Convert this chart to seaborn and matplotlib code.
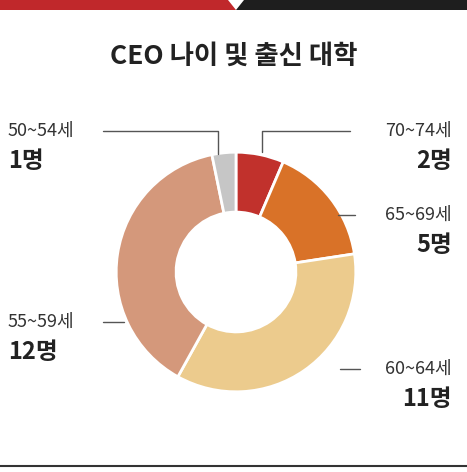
import matplotlib
matplotlib.use("Agg")
import matplotlib.pyplot as plt
import seaborn as sns

sns.set_theme(style="white")
plt.rcParams['font.family'] = ['Noto Sans CJK KR', 'DejaVu Sans']

labels = ["70~74세", "65~69세", "60~64세", "55~59세", "50~54세"]
counts = [2, 5, 11, 12, 1]
count_labels = ["2명", "5명", "11명", "12명", "1명"]
colors = ["#c1312c", "#d97228", "#eccb8d", "#d4987b", "#c6c6c6"]

W, H = 467, 472
fig = plt.figure(figsize=(W/100, H/100), dpi=100)
fig.patch.set_facecolor("white")

# donut
cx, cy, r = 236, 272, 121
ax = fig.add_axes([(cx-r)/W, 1-(cy+r)/H, 2*r/W, 2*r/H])
ax.pie(counts, colors=colors, startangle=90, counterclock=False,
       wedgeprops=dict(width=0.5, edgecolor="white", linewidth=2))
ax.set_xlim(-1.01, 1.01); ax.set_ylim(-1.01, 1.01)
ax.set_aspect("equal")

# overlay in pixel coords
ov = fig.add_axes([0, 0, 1, 1], zorder=-1)
ov.set_xlim(0, W); ov.set_ylim(H, 0); ov.axis("off")
ov.fill([0, 228, 236, 0], [0, 0, 10, 10], color="#c0282b", lw=0)
ov.fill([236, 244, W, W], [10, 0, 0, 10], color="#1e1e1e", lw=0)
ov.plot([0, W], [466, 466], color="#333333", lw=1.5)
ov.text(W/2, 56, "CEO 나이 및 출신 대학", ha="center", va="center",
        fontsize=19, fontweight="bold", color="#222222")

ov2 = fig.add_axes([0, 0, 1, 1], zorder=5)
ov2.set_xlim(0, W); ov2.set_ylim(H, 0); ov2.axis("off"); ov2.patch.set_alpha(0)
lc = "#555555"
pos = [
    (452, 131, "right", [(350, 131), (262, 131), (262, 152)]),
    (452, 215, "right", [(355, 215), (338, 215)]),
    (452, 369, "right", [(360, 369), (340, 369)]),
    (8, 322, "left", [(103, 322), (124, 322)]),
    (8, 131, "left", [(103, 131), (218, 131), (218, 154)]),
]
for lab, cl, (x, y, ha, pts) in zip(labels, count_labels, pos):
    ov2.text(x, y, lab, ha=ha, va="center", fontsize=13, color="#333333")
    ov2.text(x, y+30, cl, ha=ha, va="center", fontsize=17,
             fontweight="bold", color="#222222")
    xs, ys = zip(*pts)
    ov2.plot(xs, ys, color=lc, lw=1)

fig.savefig("out.png", dpi=100)
